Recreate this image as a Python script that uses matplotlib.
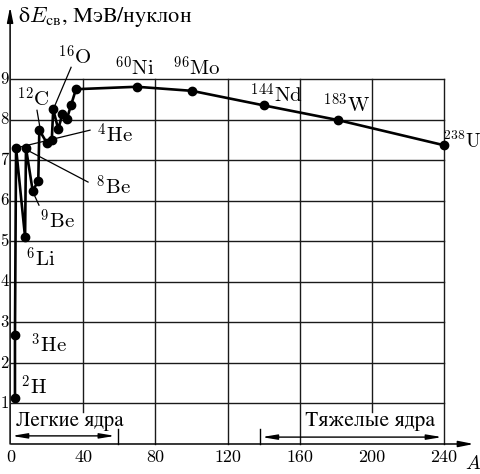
"""
Удельная энергия связи ядер в зависимости от массового числа A.
"""
import matplotlib
matplotlib.use("Agg")
import matplotlib.pyplot as plt

# ============================================================================
# Data
# ============================================================================

# curve points: mass number A (as drawn) and binding energy per nucleon
mass_number = [2.2, 2.2, 2.8, 7.8, 8.3, 12.0, 15.1, 15.7, 19.8, 22.6, 23.4,
               26.2, 28.4, 30.9, 33.3, 36.0, 69.7, 100.2, 140.2, 181.1, 239.8]
binding_energy = [1.13, 2.69, 7.30, 5.10, 7.30, 6.25, 6.48, 7.74, 7.43, 7.50,
                  8.25, 7.76, 8.13, 8.01, 8.36, 8.75, 8.81, 8.71, 8.35, 7.99,
                  7.37]

# nuclide labels
nuclide_labels = [r"$^{16}\mathrm{O}$", r"$^{60}\mathrm{Ni}$",
                  r"$^{96}\mathrm{Mo}$", r"$^{144}\mathrm{Nd}$",
                  r"$^{183}\mathrm{W}$", r"$^{238}\mathrm{U}$",
                  r"$^{12}\mathrm{C}$", r"$^{4}\mathrm{He}$",
                  r"$^{8}\mathrm{Be}$", r"$^{9}\mathrm{Be}$",
                  r"$^{6}\mathrm{Li}$", r"$^{3}\mathrm{He}$",
                  r"$^{2}\mathrm{H}$"]

x_ticks = [0, 40, 80, 120, 160, 200, 240]
y_ticks = [1, 2, 3, 4, 5, 6, 7, 8, 9]

y_label = "δ$E_{\\rm св}$, МэВ/нуклон"
light_label = "Легкие ядра"
heavy_label = "Тяжелые ядра"

# ============================================================================
# Layout
# ============================================================================

# where each nuclide label sits (left, baseline)
label_pos = [(26.1, 9.34), (57.6, 9.07), (89.8, 9.07), (132.5, 8.41),
             (172.9, 8.16), (239.2, 7.30), (3.3, 8.31), (47.7, 7.42),
             (47.1, 6.14), (16.1, 5.30), (8.3, 4.36), (11.1, 2.24),
             (5.5, 1.21)]

# thin pointer lines from labels to points: ((x0, y0), (x1, y1))
pointers = [((33.3, 9.29), (23.4, 8.25)),
            ((14.4, 8.23), (16.1, 7.79)),
            ((2.8, 7.30), (43.8, 7.74)),
            ((8.9, 7.25), (42.7, 6.46)),
            ((12.2, 6.21), (15.5, 5.89))]

plt.rcParams["mathtext.fontset"] = "cm"

fig = plt.figure(figsize=(4.81, 4.74), dpi=100)
ax = fig.add_axes([0, 0, 1, 1])
ax.set_xlim(-6.1, 260.5)
ax.set_ylim(-0.74, 10.95)
ax.axis("off")

grid_kw = dict(color="#1a1a1a", linewidth=1.0, zorder=1)

# horizontal grid
for y in y_ticks:
    ax.plot([0, 240], [y, y], **grid_kw)

# vertical grid; lines under the range captions stop short of the axis
for x in x_ticks[1:]:
    y_bottom = 0.8 if x in (40, 200) else 0
    ax.plot([x, x], [y_bottom, 9], **grid_kw)

# axes with arrows
ax.annotate("", xy=(256.5, 0), xytext=(0, 0),
            arrowprops=dict(arrowstyle="-|>,head_length=0.9,head_width=0.18",
                            color="black", lw=1.1, shrinkA=0, shrinkB=0))
ax.annotate("", xy=(-0.5, 10.78), xytext=(-0.5, 0),
            arrowprops=dict(arrowstyle="-|>,head_length=0.9,head_width=0.18",
                            color="black", lw=1.1, shrinkA=0, shrinkB=0))

# tick labels
for x in x_ticks:
    ax.text(x, -0.33, str(x), ha="center", va="center",
            fontsize=13, family="cmr10")
for y in y_ticks:
    ax.text(-1.3, y, str(y), ha="right", va="center",
            fontsize=12, family="cmr10")

ax.text(256.0, -0.49, r"$A$", ha="center", va="center", fontsize=14)
ax.text(3.8, 10.4, y_label, ha="left", va="baseline", fontsize=16,
        family="STIXGeneral")

# data curve
ax.plot(mass_number, binding_energy, color="black", linewidth=1.9,
        marker="o", markersize=6, zorder=3)

# pointer lines and nuclide labels
for (x0, y0), (x1, y1) in pointers:
    ax.plot([x0, x1], [y0, y1], color="black", linewidth=0.9, zorder=2)
for text, (x, y) in zip(nuclide_labels, label_pos):
    size = 14 if "238" in text else 15
    ax.text(x, y, text, ha="left", va="baseline", fontsize=size, zorder=4)

# light / heavy nuclei ranges
range_arrow = dict(arrowstyle="<|-|>,head_length=0.9,head_width=0.15",
                   color="black", lw=1.0, shrinkA=0, shrinkB=0)
ax.annotate("", xy=(0.5, 0.2), xytext=(57.6, 0.2), arrowprops=range_arrow)
ax.plot([59.3, 59.3], [0, 0.37], color="black", linewidth=1.0)
ax.annotate("", xy=(139.0, 0.17), xytext=(238.9, 0.17), arrowprops=range_arrow)
ax.plot([138.0, 138.0], [0, 0.37], color="black", linewidth=1.0)

ax.text(2.8, 0.44, light_label, ha="left", va="baseline",
        fontsize=15, family="STIXGeneral")
ax.text(163.0, 0.44, heavy_label, ha="left", va="baseline",
        fontsize=15.5, family="STIXGeneral")

plt.savefig("out.png", dpi=100)
plt.close(fig)
